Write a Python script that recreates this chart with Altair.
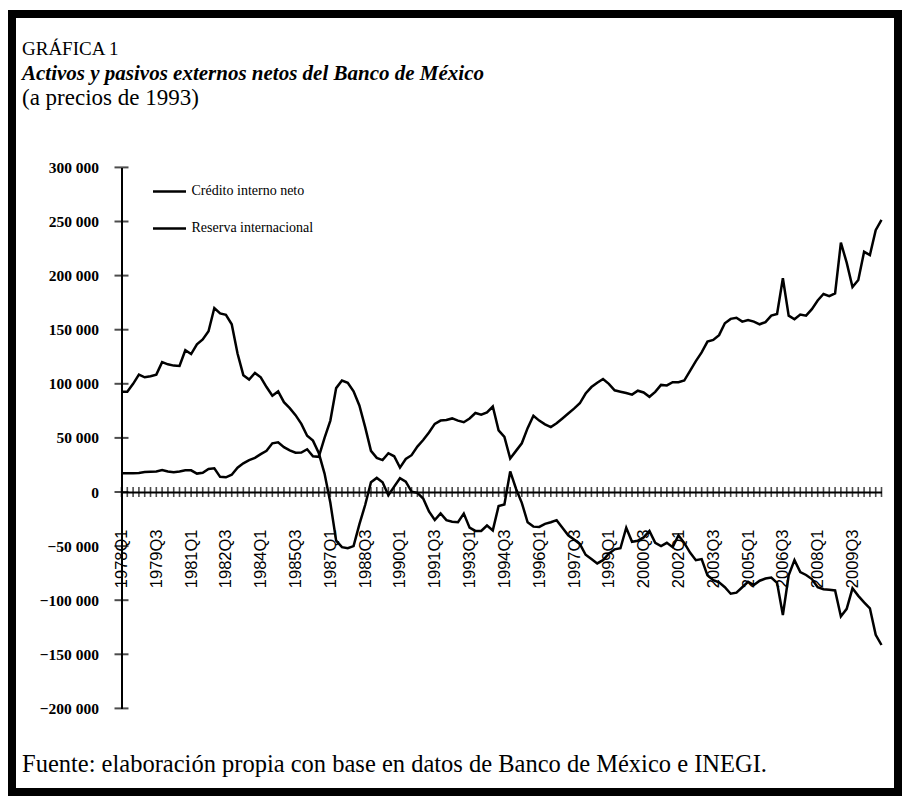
import altair as alt
import pandas as pd

# Quarterly categories 1978Q1 .. 2010Q4
YEARS = list(range(1978, 2011))
QUARTERS = [f"{y}Q{q}" for y in YEARS for q in (1, 2, 3, 4)]

X_LABELS = ["1978Q1", "1979Q3", "1981Q1", "1982Q3", "1984Q1", "1985Q3",
            "1987Q1", "1988Q3", "1990Q1", "1991Q3", "1993Q1", "1994Q3",
            "1996Q1", "1997Q3", "1999Q1", "2000Q3", "2002Q1", "2003Q3",
            "2005Q1", "2006Q3", "2008Q1", "2009Q3"]

Y_TICKS = [-200000, -150000, -100000, -50000, 0, 50000, 100000, 150000,
           200000, 250000, 300000]

SERIES = ["Crédito interno neto", "Reserva internacional"]

CREDITO = [
    92700, 92700, 100000, 108500, 106000, 107000, 108500, 120000, 118000, 116800,
    116500, 131000, 127500, 136500, 141000, 148500, 170000, 165000, 163800, 155000,
    128000, 108000, 104000, 110000, 106000, 97000, 89000, 93000, 83000, 77500,
    71000, 63000, 52000, 47500, 36000, 17000, -10000, -45000, -51000, -52000,
    -50000, -30000, -12000, 9000, 13000, 9000, -3000, 5000, 12700, 9500,
    300, -800, -6000, -18000, -25900, -19700, -26000, -27400, -28000, -20000,
    -33000, -36000, -36000, -31000, -35500, -13000, -11500, 19000, 3000, -10000,
    -28000, -32000, -32300, -29500, -28000, -26000, -33000, -40000, -44000, -48000,
    -58000, -62000, -66000, -63000, -57000, -53000, -52000, -33000, -46000, -45000,
    -42000, -36000, -47000, -50000, -47000, -51000, -40000, -47000, -56000, -63000,
    -62000, -77000, -81500, -83500, -88000, -94000, -93000, -88000, -83000, -86000,
    -82000, -80000, -79000, -84000, -113700, -77000, -63000, -74000, -76700, -80500,
    -88000, -89900, -90300, -91000, -115000, -108000, -89000, -96000, -102000, -107500,
    -132000, -141400,
]

RESERVA = [
    17300, 17300, 17300, 17500, 18500, 18800, 19000, 20300, 19000, 18200,
    19000, 20000, 20000, 17000, 17800, 21200, 21900, 14000, 13600, 16000,
    22500, 26500, 29500, 31500, 35000, 38000, 45000, 46000, 41500, 38500,
    36300, 36500, 39500, 33000, 32500, 50000, 66000, 96000, 103000, 101000,
    93000, 80000, 60000, 38000, 31500, 29500, 35800, 33000, 22500, 30500,
    34000, 42000, 48000, 55000, 63000, 66000, 66500, 68000, 66000, 64500,
    68000, 73000, 71500, 73500, 79000, 57000, 51000, 31000, 38000, 45000,
    59000, 70500, 66000, 62500, 60000, 63500, 68000, 72500, 77000, 82000,
    91000, 97000, 101000, 104500, 100000, 94000, 92700, 91500, 90000, 93600,
    92000, 88000, 92500, 99000, 98500, 101500, 101500, 103000, 112000, 121000,
    129000, 139000, 140500, 145000, 156000, 160000, 161000, 157500, 159000, 157500,
    155000, 157000, 163000, 164500, 197500, 163000, 159600, 164000, 163000, 169000,
    177000, 183000, 181000, 183500, 230400, 212000, 189500, 196000, 222000, 219000,
    242000, 251400,
]

TITLE_1 = "GRÁFICA 1"
TITLE_2 = "Activos y pasivos externos netos del Banco de México"
TITLE_3 = "(a precios de 1993)"
SOURCE = "Fuente: elaboración propia con base en datos de Banco de México e INEGI."

df = pd.DataFrame({
    "quarter": QUARTERS * 2,
    "serie": [SERIES[0]] * len(QUARTERS) + [SERIES[1]] * len(QUARTERS),
    "valor": CREDITO + RESERVA,
})
zero_df = pd.DataFrame({"quarter": QUARTERS, "valor": [0] * len(QUARTERS)})
ytick_df = pd.DataFrame({"quarter": [QUARTERS[0]] * len(Y_TICKS), "valor": Y_TICKS})
one = pd.DataFrame({"k": [0]})

W, H = 760, 541
XSCALE = alt.Scale(type="point", padding=0, domain=QUARTERS)
YSCALE = alt.Scale(domain=[-200000, 300000], nice=False, zero=False)
zero_offset = -(H - H * 300000 / 500000)

x_enc = alt.X("quarter:O", sort=QUARTERS, scale=XSCALE,
              axis=alt.Axis(values=X_LABELS, labelAngle=270, ticks=False,
                            domain=True, domainColor="black", domainWidth=2,
                            labelFont="Liberation Sans", labelFontSize=16.5,
                            labelColor="black", labelPadding=37,
                            offset=zero_offset, grid=False, title=None))
y_enc = alt.Y("valor:Q", scale=YSCALE,
              axis=alt.Axis(values=Y_TICKS, ticks=False, domain=True,
                            domainColor="black", domainWidth=2,
                            labelFont="Liberation Serif", labelFontWeight="bold",
                            labelFontSize=15.5, labelColor="black", labelPadding=23,
                            labelExpr="replace(format(datum.value, ','), /,/g, ' ')",
                            grid=False, title=None))

lines = alt.Chart(df).mark_line(strokeWidth=2.5).encode(
    x=x_enc,
    y=y_enc,
    color=alt.Color("serie:N", sort=SERIES,
                    scale=alt.Scale(domain=SERIES, range=["black", "black"]),
                    legend=alt.Legend(orient="none", legendX=30, legendY=6,
                                      title=None, symbolType="stroke",
                                      symbolSize=1089, symbolStrokeWidth=2.5,
                                      labelFont="Liberation Serif",
                                      labelFontSize=14, labelColor="black",
                                      rowPadding=12, labelOffset=4)),
)

zero_ticks = alt.Chart(zero_df).mark_tick(orient="vertical", size=10, thickness=1.6,
                                          color="black").encode(
    x=alt.X("quarter:O", sort=QUARTERS, scale=XSCALE),
    y=alt.Y("valor:Q", scale=YSCALE),
)

y_ticks = alt.Chart(ytick_df).mark_tick(orient="horizontal", size=14, thickness=2,
                                        color="black").encode(
    x=alt.X("quarter:O", sort=QUARTERS, scale=XSCALE),
    y=alt.Y("valor:Q", scale=YSCALE),
)

frame = alt.Chart(one).mark_rect(filled=False, stroke="black", strokeWidth=8).encode(
    x=alt.value(-109.5), x2=alt.value(776.5), y=alt.value(-153.4), y2=alt.value(624.6))


def label(text, x, y, size, style="normal", weight="normal"):
    return alt.Chart(one).mark_text(text=text, align="left", baseline="alphabetic",
                                    font="Liberation Serif", fontSize=size,
                                    fontStyle=style, fontWeight=weight,
                                    color="black").encode(x=alt.value(x), y=alt.value(y))


t1 = label(TITLE_1, -99.5, -112.4, 19)
t2 = label(TITLE_2, -99.5, -87.4, 21, style="italic", weight="bold")
t3 = label(TITLE_3, -99.5, -62.4, 23)
src = label(SOURCE, -99.5, 604.6, 24.5)

chart = alt.layer(frame, t1, t2, t3, src, zero_ticks, y_ticks, lines).properties(
    width=W, height=H,
    padding={"left": 113.5, "top": 159.4, "right": 20.5, "bottom": 87.6},
    autosize=alt.AutoSizeParams(type="none"),
    background="white",
).configure_view(stroke=None)

chart.save("out.html", embed_options={"renderer": "svg", "actions": False})
